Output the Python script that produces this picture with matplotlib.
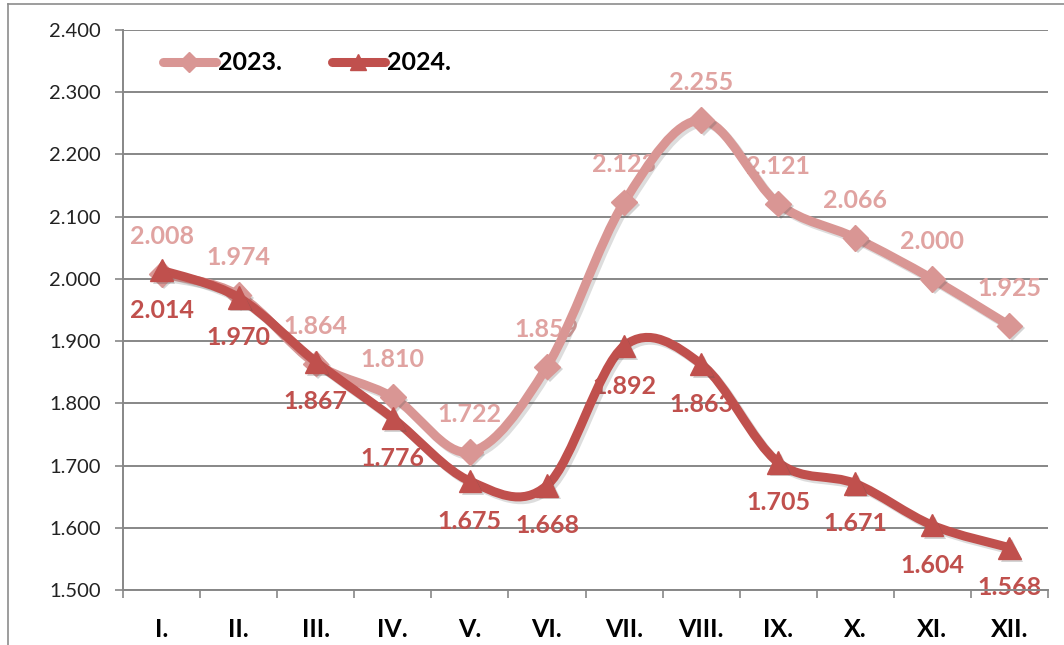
import matplotlib
matplotlib.use("Agg")
import matplotlib.pyplot as plt
import matplotlib.patheffects as pe
import numpy as np
from matplotlib.lines import Line2D
from matplotlib.patches import PathPatch
from matplotlib.path import Path

# ---------------------------------------------------------------------------
# Data
# ---------------------------------------------------------------------------
months = ["I.", "II.", "III.", "IV.", "V.", "VI.",
          "VII.", "VIII.", "IX.", "X.", "XI.", "XII."]
values_2023 = [2.008, 1.974, 1.864, 1.810, 1.722, 1.859,
               2.123, 2.255, 2.121, 2.066, 2.000, 1.925]
values_2024 = [2.014, 1.970, 1.867, 1.776, 1.675, 1.668,
               1.892, 1.863, 1.705, 1.671, 1.604, 1.568]
series_names = ["2023.", "2024."]
y_ticks = [1.5, 1.6, 1.7, 1.8, 1.9, 2.0, 2.1, 2.2, 2.3, 2.4]

COL_23 = "#D99694"
COL_23_TXT = "#E0A3A1"
COL_24 = "#C0504D"
GRID = "#878787"

plt.rcParams["font.family"] = ["Lato", "DejaVu Sans"]


def smooth_path(xs, ys):
    """Excel-like smoothed line: Catmull-Rom segments as cubic Beziers."""
    pts = np.column_stack([xs, ys]).astype(float)
    n = len(pts)
    verts = [pts[0]]
    codes = [Path.MOVETO]
    for i in range(n - 1):
        p0 = pts[max(i - 1, 0)]
        p1 = pts[i]
        p2 = pts[i + 1]
        p3 = pts[min(i + 2, n - 1)]
        c1 = p1 + (p2 - p0) / 6.0
        c2 = p2 - (p3 - p1) / 6.0
        verts += [c1, c2, p2]
        codes += [Path.CURVE4] * 3
    return Path(verts, codes)


def fmt(v):
    return f"{v:.3f}"


shadow = [pe.SimplePatchShadow(offset=(2, -2), shadow_rgbFace="#555555", alpha=0.25),
          pe.Normal()]
line_shadow = [pe.SimpleLineShadow(offset=(2, -2), shadow_color="#555555", alpha=0.2),
               pe.Normal()]

fig = plt.figure(figsize=(10.64, 6.45), dpi=100)
ax = fig.add_axes([123 / 1064, 1 - 590 / 645, (1048 - 123) / 1064, 560 / 645])

x = np.arange(len(months))

# outer chart border (cropped)
fig.add_artist(Line2D([8 / 1064, 8 / 1064], [0, 1 - 4 / 645],
                      transform=fig.transFigure, color="#8c8c8c", lw=1.2))
fig.add_artist(Line2D([8 / 1064, 1], [1 - 4 / 645, 1 - 4 / 645],
                      transform=fig.transFigure, color="#8c8c8c", lw=1.2))

for vals, col, marker, ms, zo in [(values_2023, COL_23, "D", 13, 4),
                                  (values_2024, COL_24, "^", 16, 6)]:
    ax.add_patch(PathPatch(smooth_path(x, vals), facecolor="none", edgecolor=col,
                           lw=6.5, capstyle="round", joinstyle="round", zorder=zo,
                           path_effects=line_shadow))
    ax.plot(x, vals, ls="none", marker=marker, ms=ms, color=col, mec=col,
            zorder=zo + 1, path_effects=shadow)

# data labels, drawn beneath the lines
for i, v in enumerate(values_2023):
    ax.annotate(fmt(v), (x[i], v), xytext=(0, 27), textcoords="offset points",
                ha="center", va="center", fontsize=18, fontweight="bold",
                color=COL_23_TXT, zorder=2)
for i, v in enumerate(values_2024):
    ax.annotate(fmt(v), (x[i], v), xytext=(0, -29), textcoords="offset points",
                ha="center", va="center", fontsize=18, fontweight="bold",
                color=COL_24, zorder=2)

ax.set_xlim(-0.5, len(months) - 0.5)
ax.set_ylim(1.5, 2.4)
ax.set_yticks(y_ticks)
ax.set_yticklabels([fmt(t) for t in y_ticks])
ax.set_xticks(x)
ax.set_xticklabels(months, fontsize=18, fontweight="bold")
ax.set_xticks(np.arange(len(months) + 1) - 0.5, minor=True)
ax.tick_params(axis="x", which="major", length=0, pad=20)
ax.tick_params(axis="x", which="minor", length=6, width=1.2, color=GRID, direction="out")
ax.tick_params(axis="y", length=6, width=1.2, color=GRID, labelsize=14.5,
               labelcolor="#222222", pad=10)

ax.yaxis.grid(True, color=GRID, lw=1.4)
ax.set_axisbelow(True)
for side in ["top", "right"]:
    ax.spines[side].set_visible(False)
for side in ["left", "bottom"]:
    ax.spines[side].set_color(GRID)
    ax.spines[side].set_linewidth(1.4)

handles = [Line2D([], [], color=COL_23, lw=6.5, marker="D", ms=10, solid_capstyle="round"),
           Line2D([], [], color=COL_24, lw=6.5, marker="^", ms=12, solid_capstyle="round")]
ax.legend(handles, series_names, loc="center left",
          bbox_to_anchor=((163 - 123) / 925, 1 - (63 - 30) / 560),
          ncol=2, frameon=False, borderpad=0, borderaxespad=0,
          handlelength=2.1, handletextpad=0.1, columnspacing=2.0,
          prop={"size": 18, "weight": "bold"})

fig.savefig("out.png", dpi=100)
